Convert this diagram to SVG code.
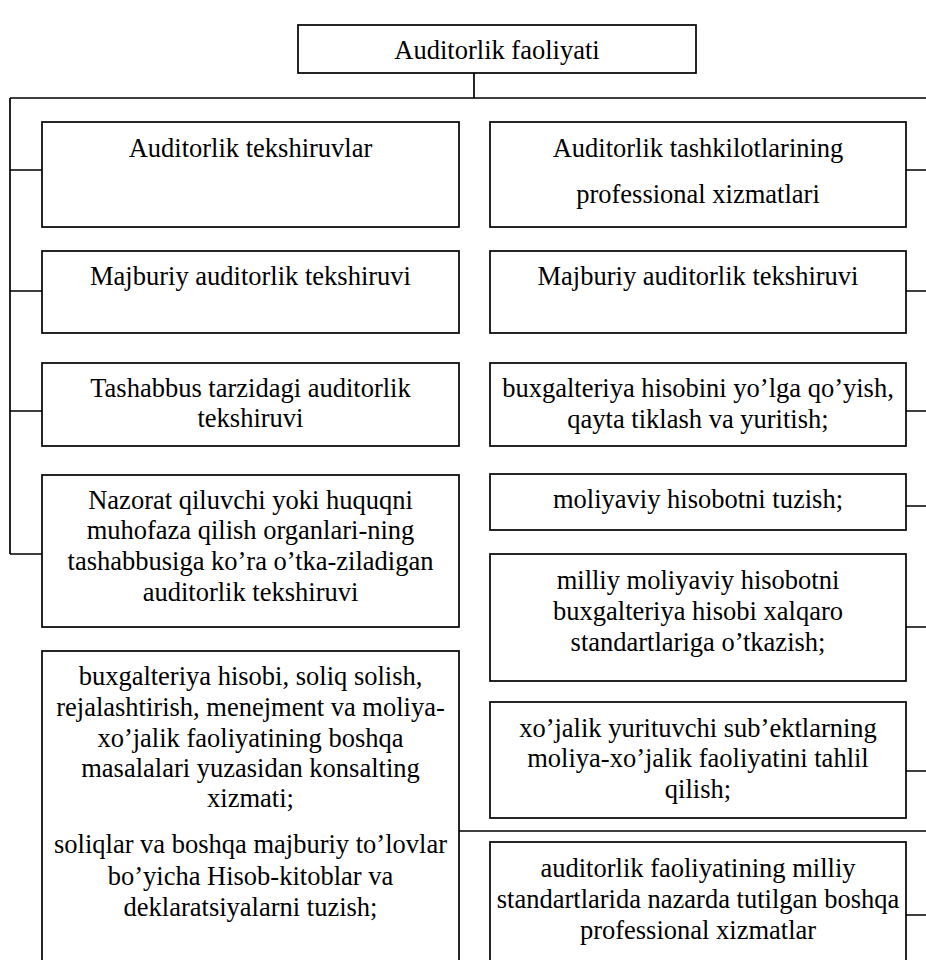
<svg xmlns="http://www.w3.org/2000/svg" width="926" height="960" viewBox="0 0 926 960">
<style>
.box{fill:#fff;stroke:#000;stroke-width:1.7}
.ln{fill:none;stroke:#000;stroke-width:1.7}
text{font-family:"Liberation Serif","Times New Roman",serif;font-size:26.5px;fill:#000;text-anchor:middle}
</style>
<rect width="926" height="960" fill="#fff"/>
<g id="connectors">
<path class="ln" d="M474 73V98M10 98H926M10 98V554M10 170H42M10 291H42M10 411H42M10 554H42"/>
<path class="ln" d="M906 170H926M906 291H926M906 411H926M906 506H926M906 627H926M906 771H926M906 915H926M459 831H926"/>
</g>
<g id="root"><rect class="box" x="298" y="25" width="398" height="48"/><text x="497" y="59">Auditorlik faoliyati</text></g>
<g id="l1"><rect class="box" x="42" y="122" width="417" height="105"/><text x="250.5" y="157">Auditorlik tekshiruvlar</text></g>
<g id="l2"><rect class="box" x="42" y="251" width="417" height="82"/><text x="250.5" y="285">Majburiy auditorlik tekshiruvi</text></g>
<g id="l3"><rect class="box" x="42" y="363" width="417" height="83"/><text x="250.5" y="397">Tashabbus tarzidagi auditorlik</text><text x="250.5" y="427">tekshiruvi</text></g>
<g id="l4"><rect class="box" x="42" y="475" width="417" height="152"/><text x="250.5" y="509">Nazorat qiluvchi yoki huquqni</text><text x="250.5" y="539">muhofaza qilish organlari-ning</text><text x="250.5" y="570">tashabbusiga ko’ra o’tka-ziladigan</text><text x="250.5" y="601">auditorlik tekshiruvi</text></g>
<g id="l5"><rect class="box" x="42" y="651" width="417" height="330"/><text x="250.5" y="685">buxgalteriya hisobi, soliq solish,</text><text x="250.5" y="716">rejalashtirish, menejment va moliya-</text><text x="250.5" y="747">xo’jalik faoliyatining boshqa</text><text x="250.5" y="777">masalalari yuzasidan konsalting</text><text x="250.5" y="807">xizmati;</text><text x="250.5" y="853">soliqlar va boshqa majburiy to’lovlar</text><text x="250.5" y="885">bo’yicha Hisob-kitoblar va</text><text x="250.5" y="916">deklaratsiyalarni tuzish;</text></g>
<g id="r1"><rect class="box" x="490" y="122" width="416" height="105"/><text x="698" y="157">Auditorlik tashkilotlarining</text><text x="698" y="203">professional xizmatlari</text></g>
<g id="r2"><rect class="box" x="490" y="251" width="416" height="82"/><text x="698" y="285">Majburiy auditorlik tekshiruvi</text></g>
<g id="r3"><rect class="box" x="490" y="363" width="416" height="83"/><text x="698" y="397">buxgalteriya hisobini yo’lga qo’yish,</text><text x="698" y="428">qayta tiklash va yuritish;</text></g>
<g id="r4"><rect class="box" x="490" y="474" width="416" height="56"/><text x="698" y="508">moliyaviy hisobotni tuzish;</text></g>
<g id="r5"><rect class="box" x="490" y="554" width="416" height="127"/><text x="698" y="589">milliy moliyaviy hisobotni</text><text x="698" y="620">buxgalteriya hisobi xalqaro</text><text x="698" y="651">standartlariga o’tkazish;</text></g>
<g id="r6"><rect class="box" x="490" y="702" width="416" height="116"/><text x="698" y="737">xo’jalik yurituvchi sub’ektlarning</text><text x="698" y="767">moliya-xo’jalik faoliyatini tahlil</text><text x="698" y="798">qilish;</text></g>
<g id="r7"><rect class="box" x="490" y="842" width="416" height="140"/><text x="698" y="877">auditorlik faoliyatining milliy</text><text x="698" y="908">standartlarida nazarda tutilgan boshqa</text><text x="698" y="939">professional xizmatlar</text></g>
</svg>
